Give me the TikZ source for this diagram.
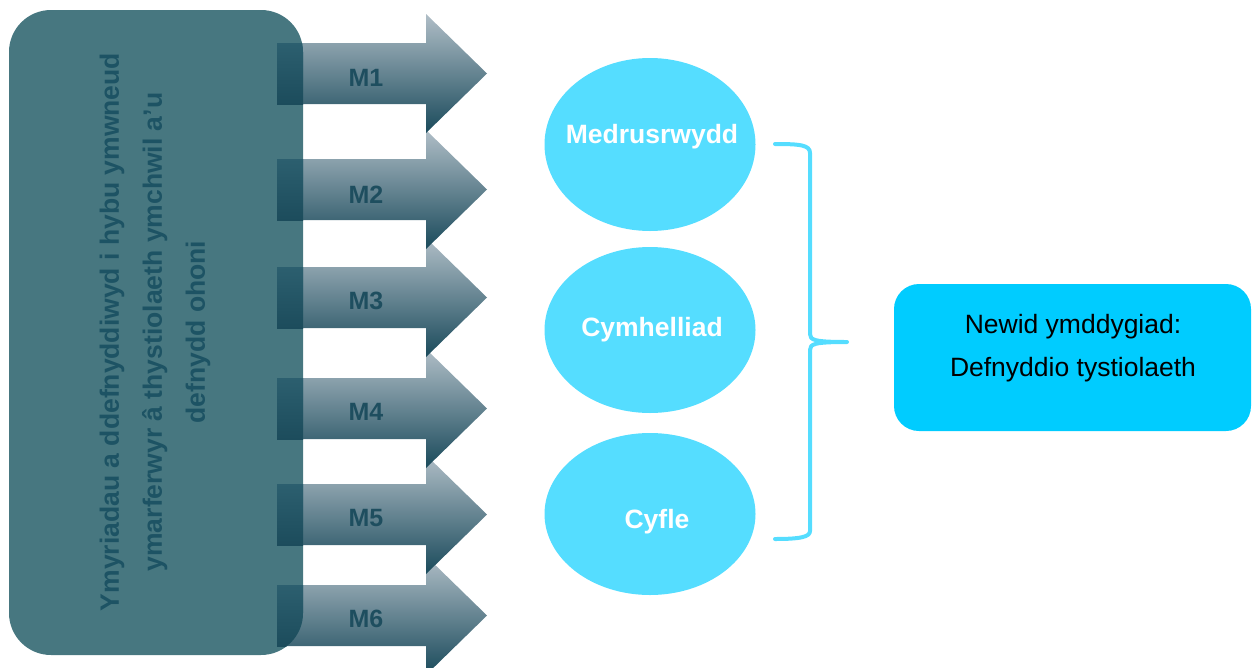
\documentclass[tikz,border=0pt]{standalone}
\usepackage{fontspec}
\setmainfont{Liberation Sans}
\usetikzlibrary{shapes.geometric}
\definecolor{boxteal}{HTML}{477780}
\definecolor{txtteal}{HTML}{1D5364}
\definecolor{labteal}{HTML}{1E4E5F}
\definecolor{arrtop}{HTML}{B0BEC7}
\definecolor{arrmid}{HTML}{8598A4}
\definecolor{arrbot}{HTML}{1A4A5B}
\definecolor{ovtop}{HTML}{2C5F6F}
\definecolor{ovbot}{HTML}{1C4C5C}
\definecolor{ellcyan}{HTML}{55DDFF}
\definecolor{outcyan}{HTML}{00CCFF}
\tikzset{
  marr/.style={top color=arrtop, middle color=arrmid, bottom color=arrbot, draw=none},
  ovl/.style={top color=ovtop, bottom color=ovbot, draw=none},
  mlab/.style={font=\bfseries\fontsize{25}{30}\selectfont, text=labteal, inner sep=0pt},
  lefttext/.style={font=\bfseries\fontsize{26.5}{43}\selectfont, text=txtteal, align=center, inner sep=0pt},
  ell/.style={ellipse, fill=ellcyan, draw=none, minimum width=211pt, inner sep=0pt},
  elltext/.style={font=\bfseries\fontsize{26.5}{32}\selectfont, text=white, inner sep=0pt},
  outbox/.style={fill=outcyan, draw=none, rounded corners=25pt, minimum width=357pt, minimum height=147pt, inner sep=0pt},
  outtext/.style={font=\fontsize{26.5}{43}\selectfont, text=black, align=center, inner sep=0pt},
  bracestyle/.style={draw=ellcyan, line width=4pt, line cap=round, line join=round}
}
\begin{document}
\begin{tikzpicture}[x=1pt,y=-1pt]
\useasboundingbox (0,0) rectangle (1252,667);
% arrows (drawn bottom-up so upper heads overlap lower ones)
\foreach \cy in {615.5,514.5,408.5,297.5,189.5,73.5}{
  \path[marr] (277,\cy-30.5) -- (426,\cy-30.5) -- (426,\cy-59.5) -- (487,\cy)
     -- (426,\cy+59.5) -- (426,\cy+30.5) -- (277,\cy+30.5) -- cycle;
}
% left box
\path[fill=boxteal, rounded corners=42pt] (9,10) rectangle (303,655);
\begin{scope}
  \clip[rounded corners=42pt] (9,10) rectangle (303,655);
  \foreach \cy in {615.5,514.5,408.5,297.5,189.5,73.5}{
    \path[ovl] (277,\cy-30.5) rectangle (303,\cy+30.5);
  }
\end{scope}
% arrow labels
\node[mlab] (m1) at (366,77.5) {M1};
\node[mlab] (m2) at (366,194.5) {M2};
\node[mlab] (m3) at (366,301) {M3};
\node[mlab] (m4) at (366,411.5) {M4};
\node[mlab] (m5) at (366,518) {M5};
\node[mlab] (m6) at (366,619) {M6};
% left text
\node[lefttext, rotate=90] (interv) at (155,332)
  {Ymyriadau a ddefnyddiwyd i hybu ymwneud\\ymarferwyr â thystiolaeth ymchwil a’u\\defnydd ohoni};
% ellipses
\node[ell, minimum height=173pt] (e1) at (650,144.5) {};
\node[ell, minimum height=166pt] (e2) at (650,330) {};
\node[ell, minimum height=162pt] (e3) at (650,514) {};
\node[elltext] (t1) at (652,137) {Medrusrwydd};
\node[elltext] (t2) at (652,330) {Cymhelliad};
\node[elltext] (t3) at (657,522) {Cyfle};
% brace
\coordinate (btop) at (775,144);
\coordinate (btip) at (847,342);
\coordinate (bbot) at (775,539);
\draw[bracestyle] (btop) .. controls (800,144) and (810,145) .. (810,153)
   -- (810,334) .. controls (810,340) and (814,342) .. (btip)
   .. controls (814,342) and (810,344) .. (810,350)
   -- (810,531) .. controls (810,537) and (800,539) .. (bbot);
% outcome box
\node[outbox] (out) at (1072.5,357.5) {};
\node[outtext] (outt) at (1073,348) {Newid ymddygiad:\\Defnyddio tystiolaeth};
\end{tikzpicture}
\end{document}
